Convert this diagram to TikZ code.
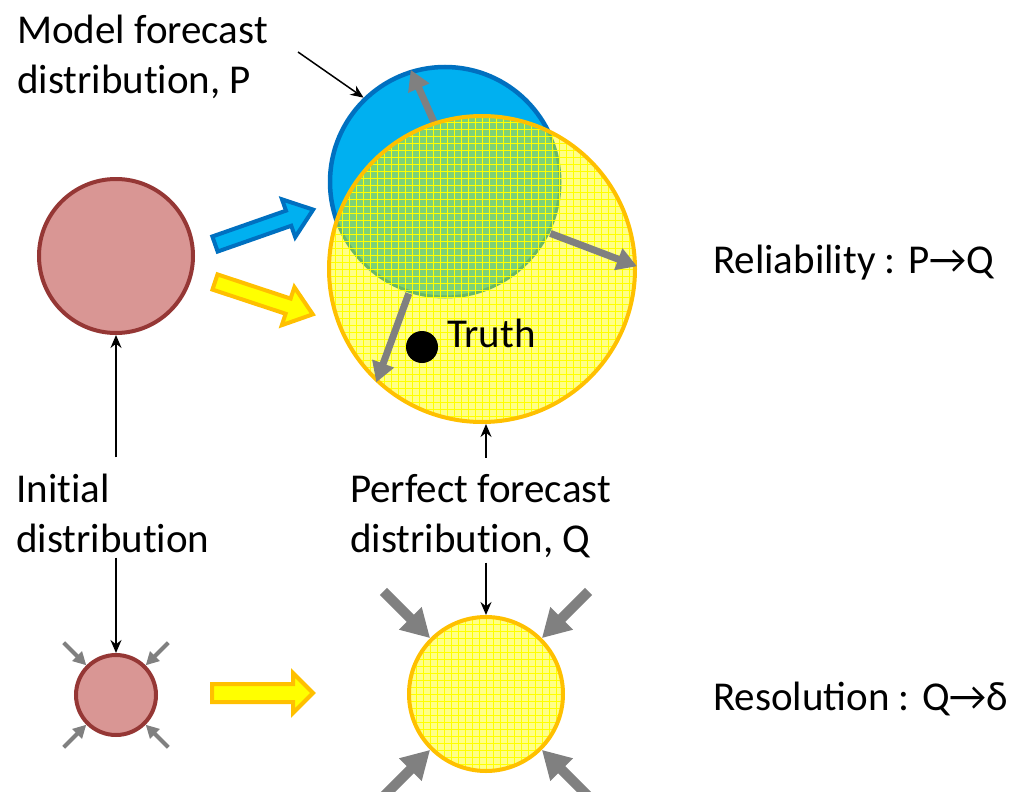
\documentclass[tikz,border=0pt]{standalone}
\usepackage{fontspec}
\setmainfont{Carlito}[Ligatures=NoCommon]
\newfontfamily\ligfont{Carlito}
\usetikzlibrary{arrows.meta,calc}
\definecolor{RedFill}{HTML}{D99694}
\definecolor{RedLine}{HTML}{953735}
\definecolor{BlueFill}{HTML}{00B0F0}
\definecolor{BlueLine}{HTML}{0070C0}
\definecolor{YellowFill}{HTML}{FFFF88}
\definecolor{YellowLine}{HTML}{FFC000}
\definecolor{OverlapGreen}{HTML}{7DD276}
\definecolor{OverlapEdge}{HTML}{6AB865}
\definecolor{GridYellow}{HTML}{FFFF00}
\definecolor{Grey}{HTML}{808080}

\begin{document}
\begin{tikzpicture}[x=1pt,y=-1pt,
  font=\fontsize{41}{50}\selectfont,
  lbl/.style={align=left,inner sep=0pt},
  thinarrow/.style={-{Stealth[length=13pt,width=11pt]},line width=1.5pt},
  grayout/.style={-{Triangle[length=20pt,width=22pt]},line width=7pt,Grey},
  grayin/.style={-{Triangle[length=13pt,width=13pt]},line width=4pt,Grey},
  graybig/.style={-{Triangle[length=28pt,width=30pt]},line width=10pt,Grey},
  redcirc/.style={circle,fill=RedFill,draw=RedLine,line width=4pt},
  yellowcirc/.style={circle,fill=YellowFill,draw=YellowLine,line width=4pt,
    path picture={\draw[GridYellow,line width=0.8pt]
      (path picture bounding box.south west) grid[step=7pt]
      (path picture bounding box.north east);}},
  pics/blockarr/.style n args={4}{code={
    \path[pic actions,line width=4pt,miter limit=10]
      (0,-#2) -- ({#1-#4},-#2) -- ({#1-#4},-#3) -- (#1,0)
      -- ({#1-#4},#3) -- ({#1-#4},#2) -- (0,#2) -- cycle;}}]
\useasboundingbox (0,0) rectangle (1018,792);

% initial state
\node[redcirc,minimum size=154pt] (init) at (116,256) {};
\node[redcirc,minimum size=80pt] (sinit) at (116,695) {};

% model forecast P
\node[circle,fill=BlueFill,draw=BlueLine,line width=4.5pt,minimum size=230pt]
  (model) at (445,182) {};
\draw[grayout] ([shift={(294:60pt)}]model.107) -- (model.107);

% perfect forecast Q
\node[circle,fill=YellowFill,draw=YellowLine,line width=4pt,minimum size=306pt,
  path picture={
    \fill[OverlapGreen] (model.center) circle (115);
    \draw[OverlapEdge,line width=3pt] (model.center) circle (115);
    \draw[GridYellow,line width=0.8pt]
      (path picture bounding box.south west) grid[step=7pt]
      (path picture bounding box.north east);}]
  (perfect) at (482,269) {};
\draw[grayout] (model.-26) -- (perfect.1);
\draw[grayout] (model.252) -- (perfect.227);

\node[circle,fill=black,minimum size=32pt,inner sep=0pt] (truth) at (422,347) {};
\node[lbl,anchor=base west] (truthlabel) at (447,347) {Truth};

\node[yellowcirc,minimum size=154pt] (sfinal) at (486,694) {};

% shift arrows
\pic[fill=BlueFill,draw=BlueLine,rotate=19.3] (toP) at (215,244) {blockarr={104}{8}{20}{26}};
\pic[fill=GridYellow,draw=YellowLine,rotate=-18.3] (toQ) at (215,282) {blockarr={103}{8}{20}{26}};
\pic[fill=GridYellow,draw=YellowLine] (toQs) at (212,693) {blockarr={101}{9}{20}{20}};

% squeezing arrows
\foreach \a in {45,135,225,315}
  \draw[grayin] ([shift={(\a:32pt)}]sinit.\a) -- (sinit.\a);
\foreach \a in {45,135,225,315}
  \draw[graybig] ([shift={(\a:66pt)}]sfinal.\a) -- (sfinal.\a);

% labels
\node[lbl,anchor=base west] (modellabel) at (17,93) {Model forecast\\distribution, P};
\coordinate (modeltail) at (298,52);
\draw[thinarrow] (modeltail) -- (model.134);

\node[lbl,anchor=base west] (initlabel) at (16,552) {Initial\\distribution};
\draw[thinarrow] ([yshift=16pt]init |- initlabel.north) -- (init.south);
\draw[thinarrow] ([yshift=-5pt]sinit |- initlabel.south) -- (sinit.north);

\node[lbl,anchor=base west] (perfectlabel) at (350,552) {Perfect forecast\\distribution, Q};
\draw[thinarrow] ([yshift=16pt]sfinal |- perfectlabel.north) -- (sfinal |- perfect.south);
\draw[thinarrow] ([yshift=-5pt]sfinal |- perfectlabel.south) -- (sfinal.north);

\node[lbl,anchor=base west] (reliab) at (713,273) {Reliability : P→Q};
\node[lbl,anchor=base west] (resol) at (713,710) {\ligfont Resolution : Q→δ};
\end{tikzpicture}
\end{document}
